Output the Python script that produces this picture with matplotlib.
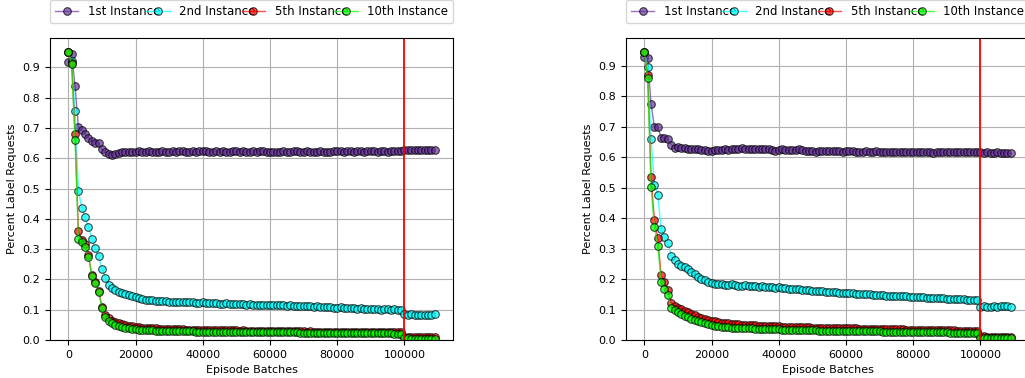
import numpy as np
import matplotlib
matplotlib.use('Agg')
import matplotlib.pyplot as plt

plt.rcParams['font.size'] = 8

episodes = np.arange(0, 110000, 1000)
labels = ['1st Instance', '2nd Instance', '5th Instance', '10th Instance']
colors = ['rebeccapurple', 'cyan', 'red', 'lime']

# left panel
left_1st = [
    0.918, 0.944, 0.840, 0.702, 0.695, 0.680, 0.666, 0.658, 0.652, 0.650,
    0.630, 0.620, 0.615, 0.612, 0.614, 0.618, 0.621, 0.622, 0.620, 0.622,
    0.622, 0.623, 0.622, 0.622, 0.623, 0.622, 0.621, 0.622, 0.623, 0.622,
    0.621, 0.623, 0.622, 0.623, 0.624, 0.622, 0.622, 0.623, 0.622, 0.623,
    0.624, 0.623, 0.622, 0.622, 0.623, 0.622, 0.623, 0.622, 0.622, 0.623,
    0.624, 0.622, 0.623, 0.622, 0.622, 0.623, 0.622, 0.624, 0.623, 0.622,
    0.620, 0.621, 0.622, 0.622, 0.623, 0.622, 0.622, 0.623, 0.623, 0.622,
    0.622, 0.623, 0.622, 0.621, 0.622, 0.623, 0.622, 0.620, 0.622, 0.623,
    0.624, 0.623, 0.622, 0.624, 0.623, 0.622, 0.624, 0.623, 0.622, 0.623,
    0.624, 0.623, 0.622, 0.623, 0.624, 0.622, 0.623, 0.624, 0.625, 0.624,
    0.626, 0.628, 0.628, 0.629, 0.629, 0.629, 0.629, 0.629, 0.628, 0.626]
left_2nd = [
    0.950, 0.920, 0.757, 0.493, 0.437, 0.405, 0.373, 0.332, 0.304, 0.276,
    0.236, 0.206, 0.183, 0.172, 0.166, 0.160, 0.155, 0.152, 0.148, 0.145,
    0.142, 0.138, 0.134, 0.133, 0.133, 0.131, 0.130, 0.129, 0.130, 0.128,
    0.127, 0.127, 0.126, 0.126, 0.125, 0.125, 0.124, 0.124, 0.123, 0.123,
    0.124, 0.122, 0.122, 0.121, 0.122, 0.120, 0.120, 0.121, 0.119, 0.119,
    0.118, 0.119, 0.118, 0.117, 0.118, 0.117, 0.116, 0.117, 0.116, 0.115,
    0.116, 0.115, 0.115, 0.114, 0.115, 0.113, 0.114, 0.113, 0.112, 0.113,
    0.111, 0.112, 0.111, 0.110, 0.111, 0.109, 0.110, 0.108, 0.109, 0.107,
    0.106, 0.108, 0.107, 0.106, 0.105, 0.106, 0.104, 0.105, 0.103, 0.104,
    0.102, 0.104, 0.103, 0.100, 0.102, 0.101, 0.100, 0.101, 0.099, 0.098,
    0.087, 0.084, 0.085, 0.083, 0.083, 0.082, 0.082, 0.082, 0.083, 0.085]
left_5th = [
    0.950, 0.915, 0.680, 0.360, 0.330, 0.318, 0.280, 0.215, 0.190, 0.163,
    0.110, 0.083, 0.072, 0.064, 0.059, 0.055, 0.052, 0.049, 0.047, 0.045,
    0.043, 0.042, 0.041, 0.040, 0.039, 0.038, 0.038, 0.037, 0.037, 0.036,
    0.036, 0.036, 0.035, 0.035, 0.035, 0.034, 0.034, 0.034, 0.034, 0.033,
    0.033, 0.033, 0.033, 0.033, 0.032, 0.032, 0.033, 0.032, 0.032, 0.032,
    0.032, 0.031, 0.032, 0.031, 0.031, 0.031, 0.031, 0.030, 0.031, 0.030,
    0.030, 0.030, 0.030, 0.030, 0.029, 0.030, 0.029, 0.029, 0.029, 0.029,
    0.029, 0.028, 0.029, 0.028, 0.028, 0.028, 0.028, 0.028, 0.027, 0.028,
    0.028, 0.027, 0.027, 0.028, 0.027, 0.027, 0.027, 0.027, 0.026, 0.027,
    0.027, 0.026, 0.027, 0.026, 0.026, 0.026, 0.026, 0.026, 0.026, 0.026,
    0.011, 0.010, 0.010, 0.010, 0.010, 0.009, 0.009, 0.009, 0.009, 0.009]
left_10th = [
    0.950, 0.912, 0.660, 0.335, 0.322, 0.308, 0.275, 0.210, 0.188, 0.160,
    0.105, 0.076, 0.064, 0.056, 0.051, 0.047, 0.044, 0.041, 0.039, 0.037,
    0.035, 0.034, 0.033, 0.033, 0.032, 0.032, 0.031, 0.031, 0.031, 0.030,
    0.030, 0.030, 0.030, 0.029, 0.029, 0.029, 0.029, 0.029, 0.028, 0.028,
    0.028, 0.028, 0.028, 0.028, 0.028, 0.027, 0.028, 0.027, 0.027, 0.027,
    0.027, 0.027, 0.027, 0.027, 0.026, 0.026, 0.026, 0.026, 0.026, 0.026,
    0.026, 0.025, 0.026, 0.025, 0.025, 0.025, 0.025, 0.025, 0.025, 0.024,
    0.024, 0.024, 0.024, 0.024, 0.024, 0.024, 0.024, 0.023, 0.023, 0.023,
    0.023, 0.023, 0.023, 0.023, 0.023, 0.023, 0.022, 0.022, 0.022, 0.022,
    0.022, 0.022, 0.022, 0.022, 0.022, 0.022, 0.022, 0.021, 0.021, 0.021,
    0.005, 0.005, 0.004, 0.004, 0.004, 0.004, 0.004, 0.004, 0.004, 0.004]

# right panel
right_1st = [
    0.930, 0.926, 0.775, 0.700, 0.700, 0.665, 0.664, 0.660, 0.642, 0.632,
    0.635, 0.630, 0.632, 0.628, 0.627, 0.628, 0.626, 0.625, 0.624, 0.622,
    0.620, 0.623, 0.625, 0.624, 0.626, 0.625, 0.627, 0.626, 0.628, 0.630,
    0.629, 0.627, 0.628, 0.626, 0.627, 0.628, 0.628, 0.627, 0.625, 0.620,
    0.623, 0.627, 0.624, 0.623, 0.623, 0.624, 0.626, 0.625, 0.622, 0.621,
    0.620, 0.619, 0.622, 0.621, 0.620, 0.621, 0.622, 0.621, 0.620, 0.619,
    0.621, 0.621, 0.620, 0.619, 0.618, 0.619, 0.620, 0.618, 0.619, 0.620,
    0.618, 0.619, 0.617, 0.616, 0.617, 0.616, 0.616, 0.618, 0.617, 0.616,
    0.617, 0.617, 0.616, 0.618, 0.616, 0.617, 0.615, 0.616, 0.617, 0.617,
    0.616, 0.617, 0.616, 0.617, 0.616, 0.616, 0.617, 0.616, 0.616, 0.617,
    0.616, 0.615, 0.616, 0.615, 0.615, 0.616, 0.615, 0.615, 0.614, 0.613]
right_2nd = [
    0.945, 0.898, 0.660, 0.510, 0.476, 0.366, 0.337, 0.320, 0.276, 0.262,
    0.250, 0.244, 0.240, 0.232, 0.223, 0.216, 0.208, 0.202, 0.196, 0.191,
    0.188, 0.185, 0.183, 0.185, 0.182, 0.181, 0.183, 0.180, 0.179, 0.178,
    0.181, 0.177, 0.179, 0.177, 0.175, 0.176, 0.174, 0.175, 0.173, 0.172,
    0.173, 0.171, 0.170, 0.169, 0.168, 0.167, 0.166, 0.165, 0.164, 0.163,
    0.162, 0.162, 0.161, 0.160, 0.159, 0.158, 0.157, 0.157, 0.156, 0.155,
    0.155, 0.154, 0.153, 0.152, 0.152, 0.151, 0.150, 0.150, 0.149, 0.148,
    0.148, 0.147, 0.146, 0.146, 0.145, 0.145, 0.144, 0.143, 0.143, 0.142,
    0.141, 0.141, 0.140, 0.140, 0.139, 0.139, 0.138, 0.138, 0.137, 0.137,
    0.136, 0.136, 0.135, 0.135, 0.134, 0.134, 0.133, 0.133, 0.132, 0.132,
    0.110, 0.111, 0.109, 0.110, 0.111, 0.110, 0.111, 0.112, 0.111, 0.110]
right_5th = [
    0.945, 0.870, 0.535, 0.395, 0.335, 0.213, 0.190, 0.165, 0.122, 0.112,
    0.106, 0.101, 0.096, 0.091, 0.086, 0.081, 0.077, 0.073, 0.069, 0.066,
    0.063, 0.061, 0.059, 0.057, 0.056, 0.055, 0.053, 0.052, 0.051, 0.050,
    0.050, 0.049, 0.048, 0.048, 0.047, 0.047, 0.046, 0.046, 0.045, 0.045,
    0.045, 0.044, 0.044, 0.044, 0.043, 0.043, 0.043, 0.042, 0.042, 0.042,
    0.041, 0.041, 0.041, 0.040, 0.040, 0.040, 0.039, 0.039, 0.039, 0.039,
    0.038, 0.038, 0.038, 0.038, 0.037, 0.037, 0.037, 0.037, 0.036, 0.036,
    0.036, 0.036, 0.036, 0.035, 0.035, 0.035, 0.035, 0.035, 0.034, 0.034,
    0.034, 0.034, 0.034, 0.033, 0.033, 0.033, 0.033, 0.033, 0.032, 0.032,
    0.032, 0.032, 0.032, 0.031, 0.031, 0.031, 0.031, 0.031, 0.030, 0.030,
    0.012, 0.012, 0.011, 0.011, 0.011, 0.011, 0.011, 0.011, 0.011, 0.010]
right_10th = [
    0.945, 0.860, 0.502, 0.370, 0.310, 0.192, 0.168, 0.147, 0.105, 0.098,
    0.092, 0.086, 0.080, 0.075, 0.070, 0.066, 0.062, 0.058, 0.055, 0.052,
    0.049, 0.047, 0.045, 0.044, 0.043, 0.042, 0.041, 0.040, 0.040, 0.039,
    0.039, 0.038, 0.038, 0.037, 0.037, 0.036, 0.036, 0.036, 0.035, 0.035,
    0.035, 0.034, 0.034, 0.034, 0.033, 0.033, 0.033, 0.033, 0.032, 0.032,
    0.032, 0.032, 0.031, 0.031, 0.031, 0.031, 0.030, 0.030, 0.030, 0.030,
    0.030, 0.029, 0.029, 0.029, 0.029, 0.029, 0.028, 0.028, 0.028, 0.028,
    0.028, 0.027, 0.027, 0.027, 0.027, 0.027, 0.027, 0.026, 0.026, 0.026,
    0.026, 0.026, 0.026, 0.026, 0.025, 0.025, 0.025, 0.025, 0.025, 0.025,
    0.025, 0.024, 0.024, 0.024, 0.024, 0.024, 0.024, 0.024, 0.023, 0.023,
    0.008, 0.008, 0.007, 0.007, 0.007, 0.007, 0.007, 0.006, 0.006, 0.006]

switch_point = 100000


def plot_panel(ax, series):
    for values, label, color in zip(series, labels, colors):
        ax.plot(episodes, values, color=color, marker='o', markersize=5.5,
                markeredgecolor='black', markeredgewidth=0.8, linewidth=1,
                alpha=0.7, label=label)
    ax.axvline(switch_point, color='red', linewidth=1.3)
    ax.set_ylim(bottom=0)
    ax.set_yticks(np.arange(0, 1.0, 0.1))
    ax.grid(True, color='#b0b0b0')
    ax.set_axisbelow(True)
    ax.set_xlabel('Episode Batches')
    ax.set_ylabel('Percent Label Requests')
    ax.legend(bbox_to_anchor=(0., 1.05, 1., .08), loc='lower left', ncol=4,
              mode='expand', borderaxespad=0., fontsize=8.5)


def main():
    fig = plt.figure(figsize=(10.25, 3.78), dpi=100)
    ax1 = fig.add_axes([50 / 1025, 38 / 378, 403 / 1025, 302 / 378])
    ax2 = fig.add_axes([626 / 1025, 38 / 378, 403 / 1025, 302 / 378])
    plot_panel(ax1, [left_1st, left_2nd, left_5th, left_10th])
    plot_panel(ax2, [right_1st, right_2nd, right_5th, right_10th])
    fig.savefig('out.png', dpi=100)


if __name__ == "__main__":
    main()
